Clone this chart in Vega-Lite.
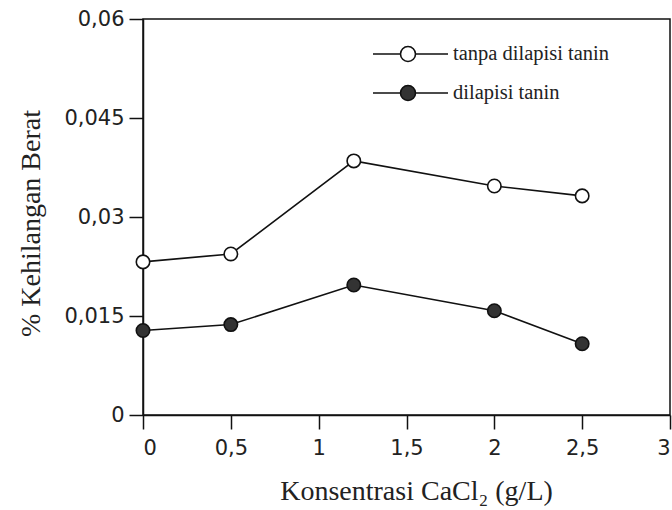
{
  "$schema": "https://vega.github.io/schema/vega-lite/v6.json",
  "autosize": {"type": "none"},
  "width": 527,
  "height": 396,
  "padding": {"left": 143, "top": 19, "right": 2, "bottom": 95},
  "background": "white",
  "data": {
    "values": [
      {"konsentrasi": 0, "kehilangan": 0.0232, "perlakuan": "tanpa dilapisi tanin"},
      {"konsentrasi": 0.5, "kehilangan": 0.0244, "perlakuan": "tanpa dilapisi tanin"},
      {"konsentrasi": 1.2, "kehilangan": 0.0385, "perlakuan": "tanpa dilapisi tanin"},
      {"konsentrasi": 2, "kehilangan": 0.0347, "perlakuan": "tanpa dilapisi tanin"},
      {"konsentrasi": 2.5, "kehilangan": 0.0332, "perlakuan": "tanpa dilapisi tanin"},
      {"konsentrasi": 0, "kehilangan": 0.0128, "perlakuan": "dilapisi tanin"},
      {"konsentrasi": 0.5, "kehilangan": 0.0137, "perlakuan": "dilapisi tanin"},
      {"konsentrasi": 1.2, "kehilangan": 0.0197, "perlakuan": "dilapisi tanin"},
      {"konsentrasi": 2, "kehilangan": 0.0158, "perlakuan": "dilapisi tanin"},
      {"konsentrasi": 2.5, "kehilangan": 0.0108, "perlakuan": "dilapisi tanin"}
    ]
  },
  "encoding": {
    "x": {
      "field": "konsentrasi", "type": "quantitative",
      "scale": {"domain": [0, 3], "nice": false, "zero": false},
      "axis": {
        "title": "Konsentrasi CaCl₂ (g/L)",
        "values": [0, 0.5, 1, 1.5, 2, 2.5, 3],
        "labelExpr": "replace(toString(datum.value), '.', ',')",
        "titleX": 273, "titleY": 84, "titleBaseline": "alphabetic", "titleAnchor": "middle", "titleAlign": "center"
      }
    },
    "y": {
      "field": "kehilangan", "type": "quantitative",
      "scale": {"domain": [0, 0.06], "nice": false},
      "axis": {
        "title": "% Kehilangan Berat",
        "values": [0, 0.015, 0.03, 0.045, 0.06],
        "labelExpr": "replace(toString(datum.value), '.', ',')",
        "titleX": -104, "titleY": 204, "titleBaseline": "alphabetic", "titleAngle": -90, "titleAlign": "center"
      }
    }
  },
  "layer": [
    {
      "mark": {"type": "line", "color": "#111", "strokeWidth": 1.6},
      "encoding": {"detail": {"field": "perlakuan"}}
    },
    {
      "mark": {"type": "point", "shape": "circle", "filled": true, "size": 180, "stroke": "#111", "strokeWidth": 1.6, "opacity": 1},
      "encoding": {
        "fill": {
          "field": "perlakuan", "type": "nominal",
          "scale": {"domain": ["tanpa dilapisi tanin", "dilapisi tanin"], "range": ["white", "#333"]},
          "legend": {
            "title": null,
            "orient": "none",
            "legendX": 254,
            "legendY": 24,
            "symbolType": "M-3.5,0H-0.75M0.75,0H4M-0.75,0A0.75,0.75,0,1,1,0.75,0A0.75,0.75,0,1,1,-0.75,0Z",
            "symbolSize": 400,
            "symbolStrokeColor": "#111",
            "symbolStrokeWidth": 1.6,
            "symbolOpacity": 1,
            "labelFont": "Liberation Serif",
            "labelFontSize": 20.5,
            "labelColor": "#222",
            "labelOffset": 34,
            "rowPadding": 17,
            "padding": 0
          }
        }
      }
    }
  ],
  "config": {
    "view": {"stroke": "#111", "strokeWidth": 1.5},
    "axis": {
      "grid": false,
      "domainColor": "#111",
      "domainWidth": 1.5,
      "tickColor": "#111",
      "tickWidth": 1.5,
      "tickSize": 14,
      "labelFont": "DejaVu Sans",
      "labelFontSize": 21,
      "labelColor": "#222",
      "titleFont": "Liberation Serif",
      "titleFontSize": 28,
      "titleFontWeight": "normal",
      "titleColor": "#222"
    },
    "axisX": {"labelPadding": 8},
    "axisY": {"labelPadding": 5}
  }
}
